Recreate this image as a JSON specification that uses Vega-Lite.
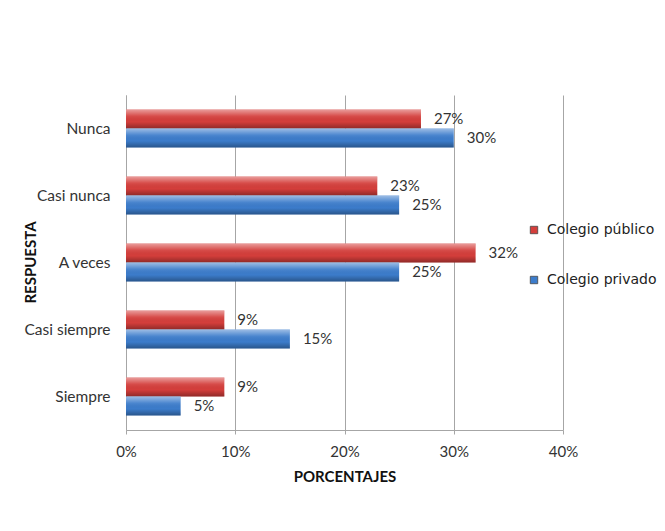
{
  "$schema": "https://vega.github.io/schema/vega-lite/v6.json",
  "width": 437,
  "height": 335,
  "autosize": {"type": "none"},
  "padding": {"left": 126, "top": 95, "right": 102, "bottom": 101},
  "background": "white",
  "config": {
    "view": {"stroke": null},
    "font": "Lato",
    "axis": {"labelColor": "#333333", "titleColor": "#111111"}
  },
  "data": {
    "values": [
      {"respuesta": "Nunca", "colegio": "Colegio público", "pct": 0.27},
      {"respuesta": "Nunca", "colegio": "Colegio privado", "pct": 0.30},
      {"respuesta": "Casi nunca", "colegio": "Colegio público", "pct": 0.23},
      {"respuesta": "Casi nunca", "colegio": "Colegio privado", "pct": 0.25},
      {"respuesta": "A veces", "colegio": "Colegio público", "pct": 0.32},
      {"respuesta": "A veces", "colegio": "Colegio privado", "pct": 0.25},
      {"respuesta": "Casi siempre", "colegio": "Colegio público", "pct": 0.09},
      {"respuesta": "Casi siempre", "colegio": "Colegio privado", "pct": 0.15},
      {"respuesta": "Siempre", "colegio": "Colegio público", "pct": 0.09},
      {"respuesta": "Siempre", "colegio": "Colegio privado", "pct": 0.05}
    ]
  },
  "encoding": {
    "y": {
      "field": "respuesta",
      "type": "nominal",
      "sort": ["Nunca", "Casi nunca", "A veces", "Casi siempre", "Siempre"],
      "scale": {"paddingInner": 0.43, "paddingOuter": 0.215},
      "axis": {
        "title": "RESPUESTA",
        "titleFontWeight": "bold",
        "titleFontSize": 15,
        "titleX": -88,
        "titleY": 167,
        "titleAngle": -90,
        "labelFontSize": 15.5,
        "labelPadding": 16,
        "ticks": false,
        "domainColor": "#A6A6A6"
      }
    },
    "yOffset": {
      "field": "colegio",
      "type": "nominal",
      "sort": ["Colegio público", "Colegio privado"],
      "scale": {"paddingInner": 0, "paddingOuter": 0}
    },
    "x": {
      "field": "pct",
      "type": "quantitative",
      "scale": {"domain": [0, 0.4], "nice": false},
      "axis": {
        "title": "PORCENTAJES",
        "titleFontWeight": "bold",
        "titleFontSize": 15,
        "titlePadding": 10,
        "format": ".0%",
        "values": [0, 0.1, 0.2, 0.3, 0.4],
        "labelFlush": false,
        "labelFontSize": 15,
        "labelPadding": 10,
        "tickSize": 4,
        "tickColor": "#A6A6A6",
        "domainColor": "#A6A6A6",
        "gridColor": "#A6A6A6",
        "gridWidth": 1
      }
    }
  },
  "layer": [
    {
      "mark": {"type": "bar"},
      "encoding": {
        "color": {
          "field": "colegio",
          "type": "nominal",
          "scale": {
            "domain": ["Colegio público", "Colegio privado"],
            "range": ["#D43E3B", "#3C7CCB"]
          },
          "legend": {
            "title": null,
            "orient": "none",
            "legendX": 401,
            "legendY": 128,
            "symbolType": "square",
            "symbolSize": 55,
            "symbolStrokeColor": "#444444",
            "symbolStrokeWidth": 0.8,
            "labelFont": "DejaVu Sans",
            "labelFontSize": 14,
            "labelColor": "#222222",
            "labelOffset": 6,
            "labelLimit": 300,
            "rowPadding": 36
          }
        }
      }
    },
    {
      "mark": {
        "type": "bar",
        "fill": {
          "gradient": "linear",
          "x1": 0, "y1": 0, "x2": 0, "y2": 1,
          "stops": [
            {"offset": 0, "color": "rgba(255,255,255,0.5)"},
            {"offset": 0.35, "color": "rgba(255,255,255,0.08)"},
            {"offset": 0.65, "color": "rgba(0,0,0,0)"},
            {"offset": 1, "color": "rgba(0,0,0,0.32)"}
          ]
        }
      }
    },
    {
      "mark": {"type": "text", "align": "left", "dx": 13, "fontSize": 15, "color": "#333333"},
      "encoding": {"text": {"field": "pct", "type": "quantitative", "format": ".0%"}}
    }
  ]
}
